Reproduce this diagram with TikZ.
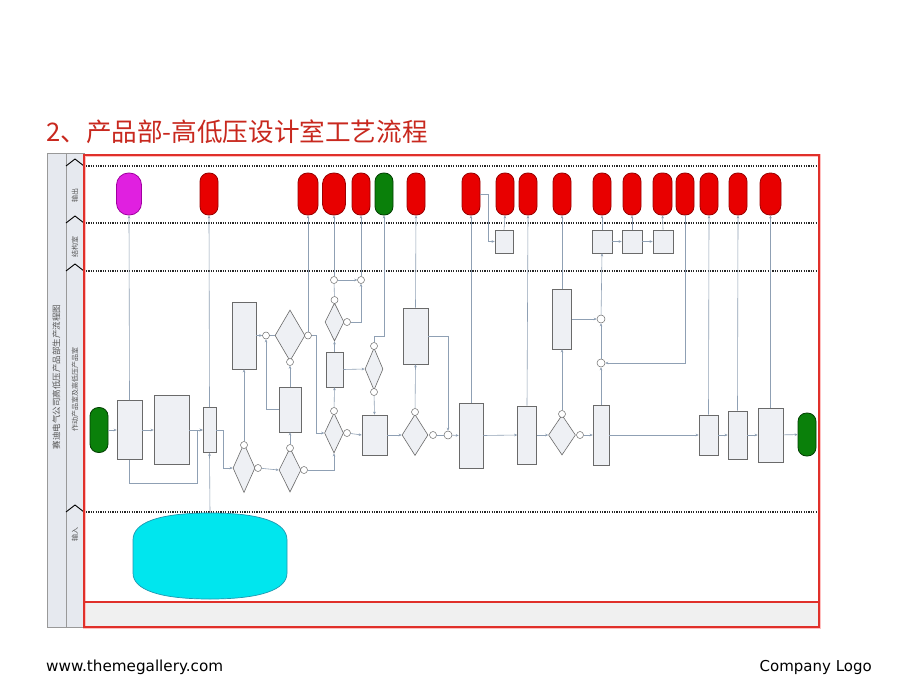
\documentclass[tikz,border=0pt]{standalone}
\usepackage{fontspec}
\setmainfont{DejaVu Sans}
\newfontfamily\cjk{Noto Sans CJK SC}
\usetikzlibrary{shapes.geometric,arrows.meta,calc}
\definecolor{titlered}{HTML}{C8281E}
\definecolor{framered}{HTML}{E0302A}
\definecolor{capred}{HTML}{E80000}
\definecolor{capredd}{HTML}{9A0000}
\definecolor{capmag}{HTML}{E020E0}
\definecolor{capmagd}{HTML}{A000A0}
\definecolor{capgrn}{HTML}{0A800A}
\definecolor{capgrnd}{HTML}{034003}
\definecolor{cyanf}{HTML}{00E6EE}
\definecolor{cyand}{HTML}{2098B0}
\definecolor{connc}{HTML}{8FA0B4}
\definecolor{boxf}{HTML}{EEF0F4}
\definecolor{boxd}{HTML}{6A6A6A}
\definecolor{colf}{HTML}{E6E9EF}
\definecolor{lbl}{HTML}{555555}
\begin{document}
\begin{tikzpicture}[x=1pt,y=-1pt,
  capbase/.style={rectangle,rounded corners=8.5pt,minimum width=18pt,minimum height=42pt,inner sep=0pt,line width=0.8pt},
  redcap/.style={capbase,fill=capred,draw=capredd},
  magcap/.style={capbase,fill=capmag,draw=capmagd,rounded corners=12pt,minimum width=25pt},
  grncap/.style={capbase,fill=capgrn,draw=capgrnd},
  pbox/.style={rectangle,draw=boxd,fill=boxf,line width=0.6pt,inner sep=0pt},
  dia/.style={diamond,draw=boxd,fill=boxf,line width=0.6pt,inner sep=0pt},
  circ/.style={circle,draw=boxd,fill=white,line width=0.5pt,minimum size=7pt,inner sep=0pt},
  conn/.style={draw=connc,line width=0.6pt,-{Stealth[length=3pt,width=2.6pt]}},
  plain/.style={draw=connc,line width=0.6pt},
  lanesep/.style={draw=black!85,line width=1.3pt,dash pattern=on 1.2pt off 1.2pt},
  chev/.style={draw=black,line width=0.9pt},
  lanelbl/.style={font=\cjk\fontsize{7}{8}\selectfont,text=lbl,rotate=90},
]
\useasboundingbox (0,0) rectangle (920,690);
\fill[white] (0,0) rectangle (920,690);

% title
\node[anchor=west,inner sep=0pt,text=titlered,font=\cjk\fontsize{25.6}{28}\selectfont] (title) at (46,132) {2、产品部-高低压设计室工艺流程};

% left columns
\draw[fill=colf,draw=gray!80,line width=0.6pt] (47,153) rectangle (66,627);
\draw[fill=colf,draw=gray!80,line width=0.6pt] (66,153) rectangle (84,627);
\node[lanelbl,font=\cjk\fontsize{8.5}{9}\selectfont] (ttl) at (56.5,377) {赛迪电气公司高低压产品部生产流程图};
\node[lanelbl] (l1) at (75,195) {输出};
\node[lanelbl] (l2) at (75,247) {结构室};
\node[lanelbl] (l3) at (75,389) {作动产品室及高低压产品室};
\node[lanelbl] (l4) at (75,534) {输入};
\foreach \L in {166,223,271,512}{
  \draw[chev] (66,\L) -- (75,\L-7) -- (84,\L);
}

% red frame
\fill[gray!12] (84,602) rectangle (819,627);
\draw[red!25,line width=3pt] (84,155) rectangle (819,627);
\draw[framered,line width=1.2pt] (84,155) rectangle (819,627);
\draw[framered,line width=1.2pt] (84,602) -- (819,602);
\foreach \L in {166,223,271,512}{
  \draw[lanesep] (86,\L) -- (817,\L);
}

% output lane capsules
\node[magcap] (o129) at (129,194) {};
\node[redcap] (o209) at (209,194) {};
\node[redcap,minimum width=20pt,rounded corners=9.5pt] (o308) at (308,194) {};
\node[redcap,minimum width=23pt,rounded corners=11pt] (o334) at (334,194) {};
\node[redcap] (o361) at (361,194) {};
\node[grncap] (o384) at (384,194) {};
\node[redcap] (o416) at (416,194) {};
\node[redcap] (o471) at (471,194) {};
\node[redcap] (o505) at (505,194) {};
\node[redcap] (o528) at (528,194) {};
\node[redcap] (o562) at (562,194) {};
\node[redcap] (o602) at (602,194) {};
\node[redcap] (o632) at (632,194) {};
\node[redcap,minimum width=19pt] (o662) at (662.5,194) {};
\node[redcap] (o685) at (685,194) {};
\node[redcap] (o709) at (709,194) {};
\node[redcap] (o738) at (738,194) {};
\node[redcap,minimum width=21pt,rounded corners=10pt] (o770) at (770.5,194) {};

% structure lane boxes
\node[pbox,minimum width=18pt,minimum height=23pt] (s1) at (504,241.5) {};
\node[pbox,minimum width=20pt,minimum height=23pt] (s2) at (602,241.5) {};
\node[pbox,minimum width=20pt,minimum height=23pt] (s3) at (632,241.5) {};
\node[pbox,minimum width=20pt,minimum height=23pt] (s4) at (663,241.5) {};

% main lane
\node[grncap,minimum height=45pt] (start) at (99,430) {};
\node[pbox,minimum width=25pt,minimum height=59pt] (A) at (129.5,430) {};
\node[pbox,minimum width=35pt,minimum height=69pt] (B) at (171.5,430) {};
\node[pbox,minimum width=13pt,minimum height=45pt] (C) at (209.5,430) {};
\node[dia,minimum width=22pt,minimum height=49pt] (D1) at (244,468) {};
\node[circ] (c1t) at (244,445) {};
\node[circ] (c1r) at (258,468) {};
\node[pbox,minimum width=24pt,minimum height=67pt] (E) at (244,335.5) {};
\node[dia,minimum width=22pt,minimum height=44pt] (D2) at (290,470) {};
\node[circ] (c2t) at (290,448) {};
\node[circ] (c2r) at (304,470) {};
\node[pbox,minimum width=22pt,minimum height=45pt] (F) at (290,409.5) {};
\node[dia,minimum width=30pt,minimum height=51pt] (D3) at (290,335.5) {};
\node[circ] (c3b) at (290,362) {};
\node[circ] (c3l) at (266,335.5) {};
\node[circ] (c3r) at (308,335.5) {};
\node[dia,minimum width=19pt,minimum height=40pt] (D4) at (334,433) {};
\node[circ] (c4t) at (334,411) {};
\node[circ] (c4r) at (347,433) {};
\node[pbox,minimum width=17pt,minimum height=35pt] (G) at (334.5,369.5) {};
\node[dia,minimum width=19pt,minimum height=38pt] (D5) at (334.5,322) {};
\node[circ] (c5t) at (334.5,300) {};
\node[circ] (c5r) at (347,322) {};
\node[circ] (c6a) at (334,280) {};
\node[circ] (c6b) at (361,280) {};
\node[dia,minimum width=18pt,minimum height=42pt] (D6) at (374,369) {};
\node[circ] (c7t) at (374,346) {};
\node[circ] (c7b) at (374,392) {};
\node[pbox,minimum width=25pt,minimum height=40pt] (H) at (374.5,435) {};
\node[dia,minimum width=26pt,minimum height=41pt] (D7) at (415,435) {};
\node[circ] (c8t) at (415,412) {};
\node[circ] (c8r) at (433,435) {};
\node[pbox,minimum width=25pt,minimum height=56pt] (I) at (415.5,336) {};
\node[circ,minimum size=8pt] (c9) at (448,435) {};
\node[pbox,minimum width=24pt,minimum height=65pt] (J) at (471,435.5) {};
\node[pbox,minimum width=19pt,minimum height=58pt] (K) at (527,435) {};
\node[dia,minimum width=27pt,minimum height=40pt] (D8) at (562,435) {};
\node[circ] (c10t) at (562,414) {};
\node[circ] (c10r) at (580,435) {};
\node[pbox,minimum width=19pt,minimum height=60pt] (L) at (562,319) {};
\node[circ,minimum size=8pt] (c11) at (601,319) {};
\node[circ,minimum size=8pt] (c12) at (601,363) {};
\node[pbox,minimum width=16pt,minimum height=60pt] (M) at (601,435) {};
\node[pbox,minimum width=19pt,minimum height=40pt] (N) at (708.5,435) {};
\node[pbox,minimum width=19pt,minimum height=48pt] (O) at (737.5,435) {};
\node[pbox,minimum width=25pt,minimum height=54pt] (P) at (770.5,435) {};
\node[grncap,minimum height=43pt] (end) at (807,434.5) {};

% input lane
\draw[fill=cyanf,draw=cyand,line width=0.7pt]
  (133,540) .. controls (133,522) and (160,513) .. (210,513)
  .. controls (260,513) and (287,522) .. (287,540) -- (287,573)
  .. controls (287,590) and (260,599) .. (210,599)
  .. controls (160,599) and (133,590) .. (133,573) -- cycle;
\coordinate (inp) at (210,513);

% connectors
\draw[conn] (start) -- (A);
\draw[conn] (A) -- (B);
\draw[conn] (B) -- (C);
\draw[conn] (A.north) -- (o129.south);
\coordinate (j1) at (197,483);
\draw[conn] (A.south) |- (j1) |- (C.west);
\draw[conn] (C.north) -- (o209.south);
\draw[conn] (inp) -- (C.south);
\draw[conn] (C.east) -- ++(7,0) |- (D1.west);
\draw[conn] (c1t) -- (E.south);
\draw[conn] (c1r) -- (D2.west);
\draw[conn] (c2t) -- (F.south);
\draw[conn] (F.north) -- (c3b);
\draw[conn] (E.east) -- (c3l);
\draw[plain] (c3l) -- (D3.west);
\draw[conn] (F.west) -| (c3l.south);
\draw[conn] (c3r) -- (o308.south);
\draw[conn] (c3r.east) -- ++(5,0) |- (D4.west);
\draw[conn] (c2r) -| (D4.south);
\draw[conn] (c4t) -- (G.south);
\draw[conn] (G.north) -- (D5.south);
\draw[plain] (c5t) -- (c6a);
\draw[conn] (c6a) -- (c6b);
\draw[conn] (c6a) -- (o334.south);
\draw[conn] (c6b) -- (o361.south);
\draw[conn] (c5r) -| (c6b.south);
\draw[conn] (G.east) -- (D6.west);
\coordinate (k1) at (374,336);
\draw[conn] (c7t) -- (k1) -| (o384.south);
\draw[conn] (c7b) -- (H.north);
\draw[conn] (c4r) -- (H.west);
\draw[conn] (H.east) -- (D7.west);
\draw[conn] (c8t) -- (I.south);
\draw[conn] (I.north) -- (o416.south);
\draw[plain] (c8r) -- (c9);
\draw[conn] (I.east) -| (c9.north);
\draw[conn] (c9) -- (J.west);
\draw[conn] (J.north) -- (o471.south);
\draw[conn] (o471.east) -- ++(8,0) |- (s1.west);
\draw[conn] (s1.north) -- (o505.south);
\draw[conn] (J.east) -- (K.west);
\draw[conn] (K.north) -- (o528.south);
\draw[conn] (K.east) -- (D8.west);
\draw[conn] (c10t) -- (L.south);
\draw[conn] (L.north) -- (o562.south);
\draw[conn] (L.east) -- (c11);
\draw[conn] (c10r) -- (M.west);
\draw[conn] (M.north) -- (c12);
\draw[conn] (c12) -- (c11);
\draw[conn] (c11) -- (s2.south);
\draw[conn] (o685.south) |- (c12.east);
\draw[conn] (s2) -- (s3);
\draw[conn] (s3) -- (s4);
\draw[conn] (s2.north) -- (o602.south);
\draw[conn] (s3.north) -- (o632.south);
\draw[conn] (s4.north) -- (o662.south);
\draw[conn] (M.east) -- (N.west);
\draw[conn] (N) -- (O);
\draw[conn] (O) -- (P);
\draw[conn] (P) -- (end);
\draw[conn] (N.north) -- (o709.south);
\draw[conn] (O.north) -- (o738.south);
\draw[conn] (P.north) -- (o770.south);

% footer
\node[anchor=west,inner sep=0pt,font=\fontsize{15.2}{17}\selectfont] (web) at (46,667) {www.themegallery.com};
\node[anchor=east,inner sep=0pt,font=\fontsize{15}{17}\selectfont] (logo) at (872,667) {Company Logo};
\end{tikzpicture}
\end{document}
